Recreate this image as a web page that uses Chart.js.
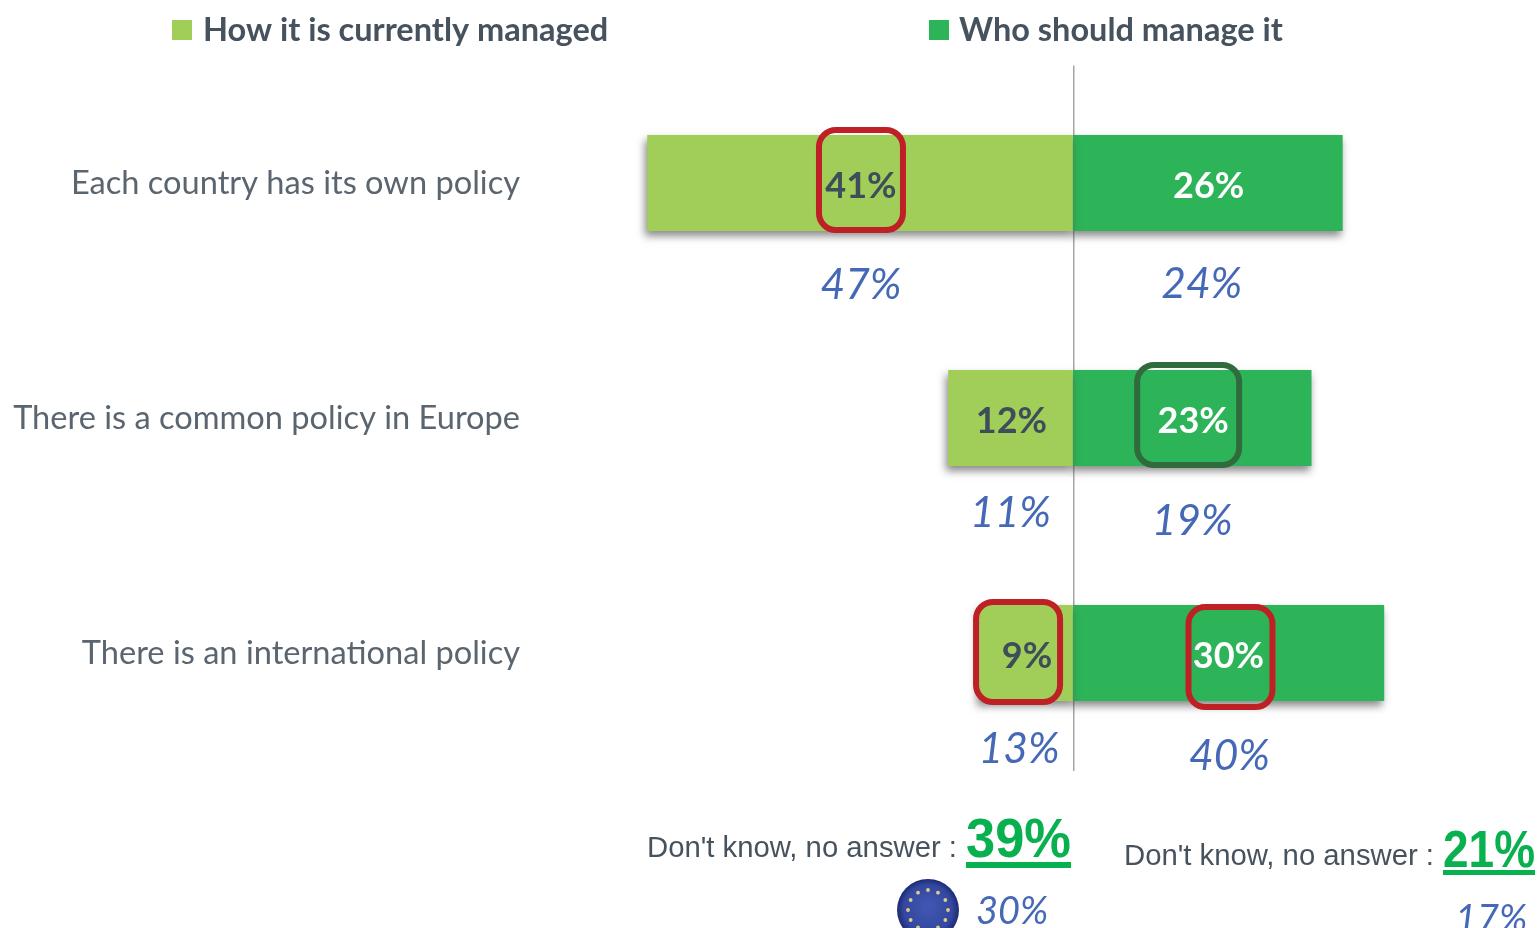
<!DOCTYPE html>
<html>
<head>
<meta charset="utf-8">
<style>html,body{margin:0;padding:0;background:#fff}#w{position:relative;width:1539px;height:928px;overflow:hidden}</style>
<script src="https://cdn.jsdelivr.net/npm/chart.js@4"></script>
</head>
<body>
<div id="w"><canvas id="c" width="1539" height="928"></canvas></div>
<script>
const categories = ["Each country has its own policy", "There is a common policy in Europe", "There is an international policy"];
const seriesNames = ["How it is currently managed", "Who should manage it"];
const currentlyManaged = [41, 12, 9];
const shouldManage = [26, 23, 30];
const earlierCurrently = [47, 11, 13];
const earlierShould = [24, 19, 40];
const dontKnowLabel = "Don't know, no answer :";
const dontKnow = [39, 21];
const earlierDontKnow = [30, 17];

const LIGHT = "#a1cd59", DARK = "#2db358", BLUE = "#4569b6", RED = "#bf2026", DGREEN = "#2f6b3c", SLATE="#47525f";

// annotation placement, in pixels relative to the bar centre
const italicOffsets = [[[1,102],[-6,101]],[[0,95],[0,103]],[[-7,96],[1,103]]];
const boxes = [
  {s:0,i:0,color:RED,dx:1,dy:-3,w:84,h:100},
  {s:1,i:1,color:DGREEN,dx:-4,dy:-3,w:102,h:100},
  {s:0,i:2,color:RED,dx:-8,dy:-1,w:84,h:100},
  {s:1,i:2,color:RED,dx:2,dy:4,w:84,h:100}
];

const barShadow = {
  id: "barShadow",
  beforeDatasetDraw(chart){const c=chart.ctx;c.save();c.shadowColor="rgba(60,60,60,.6)";c.shadowBlur=8;c.shadowOffsetX=-2;c.shadowOffsetY=5;},
  afterDatasetDraw(chart){chart.ctx.restore();}
};

function txt(c,s,x,y,font,color,align,maxW){c.font=font;c.fillStyle=color;c.textAlign=align||"left";c.textBaseline="alphabetic";if(maxW)c.fillText(s,x,y,maxW);else c.fillText(s,x,y);}

const annotations = {
  id: "annotations",
  afterDraw(chart){
    const c = chart.ctx, X = chart.scales.x, Y = chart.scales.y;
    c.save();
    // legend
    const lx=[172,929], ltx=[203,959];
    seriesNames.forEach((n,k)=>{
      c.fillStyle=k?DARK:LIGHT; c.fillRect(lx[k],20,20,20);
      txt(c,n,ltx[k],41,"bold 32.5px Lato",SLATE);
    });
    // labels in and under bars
    [currentlyManaged,shouldManage].forEach((arr,s)=>{
      arr.forEach((v,i)=>{
        const cx=X.getPixelForValue(s?v/2:-v/2), cy=Y.getPixelForValue(i);
        txt(c,v+"%",cx+(s&&i==2?0:1),cy+15,"bold 36px Lato",s?"#fff":"#3e4d5a","center");
        const e=(s?earlierShould:earlierCurrently)[i], o=italicOffsets[i][s];
        txt(c,e+"%",cx+o[0],cy+o[1]+14,"italic 42.5px Lato",BLUE,"center");
      });
    });
    // highlight boxes
    boxes.forEach(b=>{
      const v=(b.s?shouldManage:currentlyManaged)[b.i];
      const cx=X.getPixelForValue(b.s?v/2:-v/2)+b.dx, cy=Y.getPixelForValue(b.i)+b.dy;
      c.lineWidth=6;c.strokeStyle=b.color;c.beginPath();
      c.roundRect(cx-b.w/2,cy-b.h/2,b.w,b.h,17);c.stroke();
    });
    // don't know
    txt(c,dontKnowLabel,647,857,"30px 'Liberation Sans'",SLATE,"left",310);
    txt(c,dontKnowLabel,1124,865,"30px 'Liberation Sans'",SLATE,"left",310);
    txt(c,dontKnow[0]+"%",966,857,"bold 56px 'Liberation Sans'","#08b04f","left",105);
    txt(c,dontKnow[1]+"%",1443,867,"bold 51px 'Liberation Sans'","#08b04f","left",92);
    c.fillStyle="#08b04f";c.fillRect(966,862,105,6);c.fillRect(1443,870,92,5);
    txt(c,earlierDontKnow[0]+"%",976,924,"italic 38px Lato",BLUE);
    txt(c,earlierDontKnow[1]+"%",1455,932,"italic 38px Lato",BLUE);
    // EU emblem
    const ex=928,ey=910,er=31;
    const g=c.createRadialGradient(ex,ey-4,4,ex,ey,er);
    g.addColorStop(0,"#3f55b0");g.addColorStop(.75,"#33479f");g.addColorStop(1,"#1c2b70");
    c.fillStyle=g;c.beginPath();c.arc(ex,ey,er,0,Math.PI*2);c.fill();
    c.fillStyle="#d9cf8a";
    for(let a=0;a<12;a++){const t=a*Math.PI/6;c.beginPath();c.arc(ex+20*Math.cos(t),ey+20*Math.sin(t),1.9,0,Math.PI*2);c.fill();}
    c.restore();
  }
};

new Chart(document.getElementById("c"), {
  type: "bar",
  data: {
    labels: categories,
    datasets: [
      {label: seriesNames[0], data: currentlyManaged.map(v=>-v), backgroundColor: LIGHT, borderWidth:0},
      {label: seriesNames[1], data: shouldManage, backgroundColor: DARK, borderWidth:0}
    ]
  },
  options: {
    indexAxis: "y",
    responsive: false,
    animation: false,
    layout: {padding: {left:0, right:9.5, top:65.5, bottom:157.5}},
    datasets: {bar: {categoryPercentage:1, barPercentage:96/235}},
    plugins: {legend:{display:false}, tooltip:{enabled:false}, title:{display:false}},
    scales: {
      x: {
        stacked:true, min:-52, max:44, display:true,
        afterFit(s){s.height=0;},
        afterBuildTicks(s){s.ticks=[{value:0.12}];},
        border:{display:false},
        grid:{color:"#a6a6a6", lineWidth:1.5, drawTicks:false, offset:false},
        ticks:{display:false}
      },
      y: {
        stacked:true,
        afterFit(s){s.width=533;},
        border:{display:false},
        grid:{display:false, drawTicks:false},
        ticks:{color:"#5a6570", padding:13, font:{family:"Lato", size:32.6}}
      }
    }
  },
  plugins: [barShadow, annotations]
});
</script>
</body>
</html>
